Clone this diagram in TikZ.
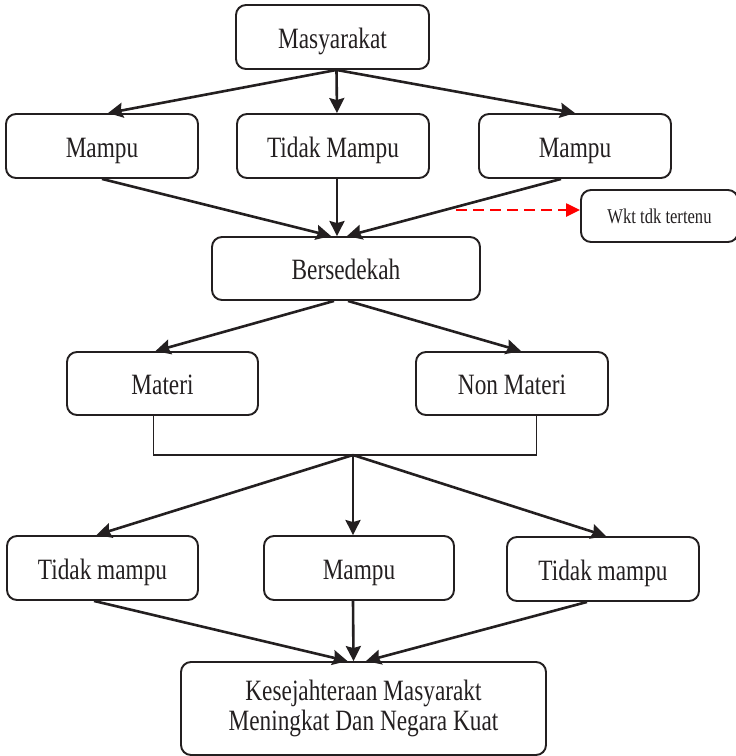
\documentclass[tikz,border=0pt]{standalone}
\usepackage{fontspec}
\setmainfont{Liberation Serif}[FakeStretch=0.79]
\usetikzlibrary{arrows.meta}
\definecolor{ink}{HTML}{231F20}
\begin{document}
\begin{tikzpicture}[x=1pt,y=-1pt,
  box/.style={draw=ink, text=ink, line width=1.9pt, rounded corners=10pt,
    inner sep=0pt, align=center,
    font=\fontsize{29.5}{30}\selectfont},
  line/.style={box, text height=22.5pt, text depth=0pt},
  arr/.style={draw=ink, line width=2.6pt,
    -{Stealth[length=15pt,width=15pt,inset=2pt]}},
  bracket/.style={draw=ink, line width=1.5pt},
  dasharr/.style={draw=red, line width=2.4pt, dash pattern=on 11pt off 6pt,
    -{Triangle[length=14pt,width=13pt]}}]
\useasboundingbox (0,0) rectangle (736,756);

% boxes
\node[line, minimum width=193pt, minimum height=64pt] (mas)    at (332.5,37)   {Masyarakat};
\node[line, minimum width=192pt, minimum height=64pt] (mampuL) at (102,146)    {Mampu};
\node[line, minimum width=192pt, minimum height=64pt] (tidak)  at (333,146)    {Tidak Mampu};
\node[line, minimum width=192pt, minimum height=64pt] (mampuR) at (575,146)    {Mampu};
\node[box, minimum width=157pt, minimum height=52pt,
      font=\fontsize{21}{23}\selectfont]             (wkt)    at (659.5,216)  {Wkt tdk tertenu};
\node[line, minimum width=268pt, minimum height=63pt] (bers)   at (346,268.5)  {Bersedekah};
\node[line, minimum width=191pt, minimum height=63pt] (materi) at (162.5,383.5){Materi};
\node[line, minimum width=192pt, minimum height=63pt] (nonmat) at (512,383.5)  {Non Materi};
\node[line, minimum width=191pt, minimum height=64pt] (tmL)    at (102.5,568)  {Tidak mampu};
\node[line, minimum width=190pt, minimum height=64pt] (mampuC) at (359,568)    {Mampu};
\node[line, minimum width=192pt, minimum height=64pt] (tmR)    at (603,569)    {Tidak mampu};
\node[box, minimum width=365pt, minimum height=93pt]  (final)  at (363.5,708.5)
  {Kesejahteraan Masyarakt\\Meningkat Dan Negara Kuat};

% first level
\draw[arr] ([xshift=4pt]mas.south) -- ([xshift=6pt]mampuL.north);
\draw[arr] ([xshift=4pt]mas.south) -- ([xshift=4pt]tidak.north);
\draw[arr] ([xshift=4pt]mas.south) -- (mampuR.north);

% into Bersedekah
\draw[arr] (mampuL.south) -- ([xshift=-15pt]bers.north);
\draw[arr] ([xshift=4pt]tidak.south) -- ([xshift=-9pt]bers.north);
\draw[arr] ([xshift=-14pt]mampuR.south) -- ([xshift=1pt]bers.north);

% side note
\coordinate (dstart) at (456,210);
\draw[dasharr] (dstart) -- ([yshift=6pt]wkt.west);

% Bersedekah splits
\draw[arr] ([xshift=-12pt]bers.south) -- ([xshift=-7pt]materi.north);
\draw[arr] ([xshift=2pt]bers.south) -- ([xshift=9pt]nonmat.north);

% joining bracket
\coordinate (hub) at (353,455);
\draw[bracket] ([xshift=-9pt]materi.south) |- (hub) -| ([xshift=24.5pt]nonmat.south);

% hub to third level
\draw[arr] (hub) -- ([xshift=-6pt]tmL.north);
\draw[arr] (hub) -- ([xshift=-6pt]mampuC.north);
\draw[arr] (hub) -- ([xshift=3pt]tmR.north);

% into the result
\draw[arr] ([xshift=-8.5pt]tmL.south) -- ([xshift=-16pt]final.north);
\draw[arr] ([xshift=-6pt]mampuC.south) -- ([xshift=-10pt]final.north);
\draw[arr] ([xshift=-16pt]tmR.south) -- ([xshift=2.5pt]final.north);
\end{tikzpicture}
\end{document}
